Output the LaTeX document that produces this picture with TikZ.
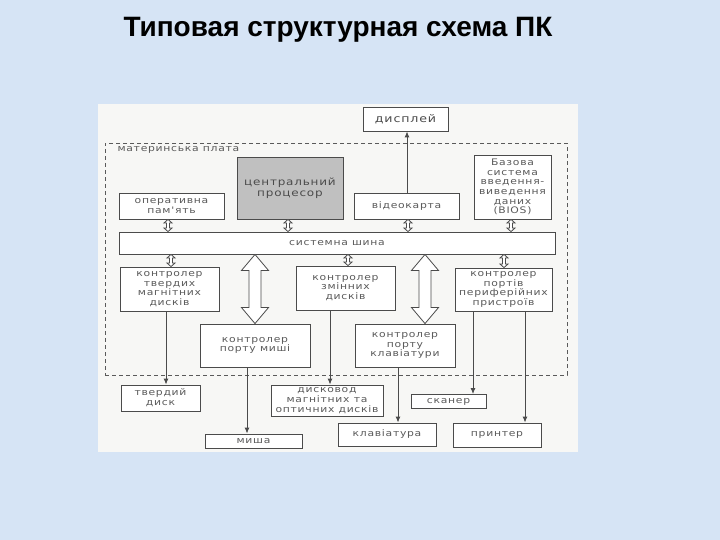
\documentclass[tikz,border=0pt]{standalone}
\usepackage{fontspec}
\usetikzlibrary{arrows.meta,calc}
\newfontfamily\titlefont{Liberation Sans}
\newfontfamily\scanfont[FakeStretch=1.2, LetterSpace=8]{DejaVu Sans}
\definecolor{slideblue}{RGB}{214,228,245}
\definecolor{scanpaper}{RGB}{247,247,245}
\definecolor{scanink}{RGB}{90,90,90}
\definecolor{scanline}{RGB}{75,75,75}
\definecolor{cpugrey}{RGB}{192,192,192}

\tikzset{
    block/.style={draw=scanline, line width=0.9pt, fill=white, text=scanink, align=center, inner sep=0.5pt,
        font=\scanfont\fontsize{9}{9.7}\selectfont},
    conn/.style={draw=scanline, line width=0.9pt, -{Latex[length=6pt,width=5pt]}},
    hollow/.style={draw=scanline, line width=0.8pt, fill=white}
}

% hollow double arrow between two points on one vertical: top, bottom, half head, half shaft, head length
\newcommand{\busarrow}[5]{%
    \coordinate (arrtop) at (#1);
    \coordinate (arrbot) at (#2);
    \draw[hollow] (arrtop) -- ($(arrtop)+(#3,#5)$) -- ($(arrtop)+(#4,#5)$) -- ($(arrbot)+(#4,-#5)$)
        -- ($(arrbot)+(#3,-#5)$) -- (arrbot) -- ($(arrbot)+(-#3,-#5)$) -- ($(arrbot)+(-#4,-#5)$)
        -- ($(arrtop)+(-#4,#5)$) -- ($(arrtop)+(-#3,#5)$) -- cycle;}

\begin{document}
\begin{tikzpicture}[x=1pt, y=-1pt]
    \fill[slideblue] (0,0) rectangle (720,540);
    \useasboundingbox (0,0) rectangle (720,540);
    \fill[scanpaper] (98,104) rectangle (578,452);

    \node[font=\titlefont\bfseries\fontsize{28}{31}\selectfont] (title) at (338,30) {Типовая структурная схема ПК};

    % motherboard frame
    \node[draw=scanink, dash pattern=on 4pt off 3pt, line width=0.8pt, minimum width=462pt, minimum height=232pt] (board) at (336,259) {};
    \node[anchor=west, text=scanink, font=\scanfont\fontsize{9}{10}\selectfont] (boardlabel) at (114,150) {материнська плата};

    \node[block, minimum width=85pt, minimum height=24pt, text=scanline, font=\scanfont\fontsize{10.5}{12}\selectfont] (display) at (405.5,119) {дисплей};
    \node[block, fill=cpugrey, minimum width=106pt, minimum height=62pt, text=scanline, font=\scanfont\fontsize{10}{11}\selectfont] (cpu) at (290,188) {центральний\\процесор};
    \node[block, minimum width=105pt, minimum height=26pt] (ram) at (171.5,206) {оперативна\\пам'ять};
    \node[block, minimum width=105pt, minimum height=26pt] (video) at (406.5,206) {відеокарта};
    \node[block, minimum width=77pt, minimum height=64pt] (bios) at (512.5,187) {Базова\\система\\введення-\\виведення\\даних\\(BIOS)};
    \node[block, minimum width=436pt, minimum height=22pt] (bus) at (337,243) {системна шина};

    \node[block, minimum width=99pt, minimum height=44pt] (hddctl) at (169.5,289) {контролер\\твердих\\магнітних\\дисків};
    \node[block, minimum width=99pt, minimum height=44pt] (remctl) at (345.5,288) {контролер\\змінних\\дисків};
    \node[block, minimum width=97pt, minimum height=43pt] (perctl) at (503.5,289.5) {контролер\\портів\\периферійних\\пристроїв};
    \node[block, minimum width=110pt, minimum height=43pt] (mousectl) at (255,345.5) {контролер\\порту миші};
    \node[block, minimum width=100pt, minimum height=43pt] (keyctl) at (405,345.5) {контролер\\порту\\клавіатури};

    \node[block, minimum width=79pt, minimum height=26pt] (hdd) at (160.5,398) {твердий\\диск};
    \node[block, minimum width=112pt, minimum height=31pt] (drive) at (327,400.5) {дисковод\\магнітних та\\оптичних дисків};
    \node[block, minimum width=75pt, minimum height=14pt] (scanner) at (448.5,401.5) {сканер};
    \node[block, minimum width=97pt, minimum height=14pt] (mouse) at (253.5,441) {миша};
    \node[block, minimum width=98pt, minimum height=23pt] (keyboard) at (387,434.5) {клавіатура};
    \node[block, minimum width=88pt, minimum height=24pt] (printer) at (497,435) {принтер};

    % small links to the bus
    \busarrow{[xshift=-3.5pt]ram.south}{[xshift=-3.5pt]ram.south |- bus.north}{4}{1.5}{3.5}
    \busarrow{[xshift=-2pt]cpu.south}{[xshift=-2pt]cpu.south |- bus.north}{4}{1.5}{3.5}
    \busarrow{[xshift=1.5pt]video.south}{[xshift=1.5pt]video.south |- bus.north}{4}{1.5}{3.5}
    \busarrow{[xshift=-1.5pt]bios.south}{[xshift=-1.5pt]bios.south |- bus.north}{4}{1.5}{3.5}
    \busarrow{[xshift=1.5pt]hddctl.north |- bus.south}{[xshift=1.5pt]hddctl.north}{4}{1.5}{3.5}
    \busarrow{[xshift=2.5pt]remctl.north |- bus.south}{[xshift=2.5pt]remctl.north}{4}{1.5}{3.5}
    \busarrow{[xshift=0.5pt]perctl.north |- bus.south}{[xshift=0.5pt]perctl.north}{4}{1.5}{3.5}

    % wide links to the port controllers
    \busarrow{mousectl.north |- bus.south}{mousectl.north}{13.5}{6}{16}
    \busarrow{[xshift=20pt]keyctl.north |- bus.south}{[xshift=20pt]keyctl.north}{13.5}{6}{16}

    % devices
    \draw[conn] ([xshift=0.5pt]video.north) -- ([xshift=0.5pt]video.north |- display.south);
    \draw[conn] ([xshift=-3.5pt]hddctl.south) -- ([xshift=-3.5pt]hddctl.south |- hdd.north);
    \draw[conn] ([xshift=-8pt]mousectl.south) -- ([xshift=-8pt]mousectl.south |- mouse.north);
    \draw[conn] ([xshift=-15.5pt]remctl.south) -- ([xshift=-15.5pt]remctl.south |- drive.north);
    \draw[conn] ([xshift=-7pt]keyctl.south) -- ([xshift=-7pt]keyctl.south |- keyboard.north);
    \draw[conn] ([xshift=-30.5pt]perctl.south) -- ([xshift=-30.5pt]perctl.south |- scanner.north);
    \draw[conn] ([xshift=21.5pt]perctl.south) -- ([xshift=21.5pt]perctl.south |- printer.north);
\end{tikzpicture}
\end{document}
